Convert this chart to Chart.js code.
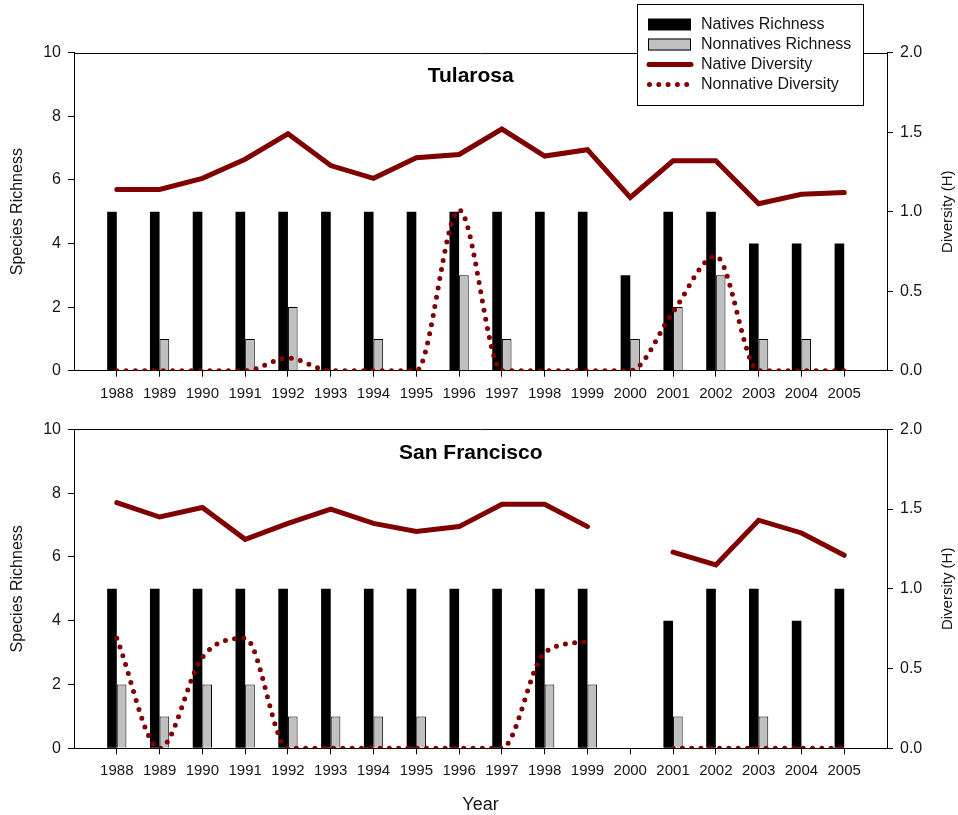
<!DOCTYPE html>
<html>
<head>
<meta charset="utf-8">
<script src="https://cdn.jsdelivr.net/npm/chart.js@4.4.1/dist/chart.umd.min.js"></script>
<style>
  html, body { margin: 0; padding: 0; background: #fff; }
  #wrap { position: relative; width: 958px; height: 815px; }
  .panel { position: absolute; left: 0; width: 958px; }
  #top { top: 0; height: 410px; }
  #bottom { top: 410px; height: 405px; }
</style>
</head>
<body>
<div id="wrap">
  <div class="panel" id="top"><canvas id="tularosaChart"></canvas></div>
  <div class="panel" id="bottom"><canvas id="sfChart"></canvas></div>
</div>
<script>
const years = [1988, 1989, 1990, 1991, 1992, 1993, 1994, 1995, 1996,
               1997, 1998, 1999, 2000, 2001, 2002, 2003, 2004, 2005];

// Tularosa
const tulNatives    = [5, 5, 5, 5, 5, 5, 5, 5, 5, 5, 5, 5, 3, 5, 5, 4, 4, 4];
const tulNonnatives = [0, 1, 0, 1, 2, 0, 1, 0, 3, 1, 0, 0, 1, 2, 3, 1, 1, 0];
const tulNativeH    = [1.14, 1.14, 1.21, 1.33, 1.49, 1.29, 1.21, 1.34, 1.36,
                       1.52, 1.35, 1.39, 1.09, 1.32, 1.32, 1.05, 1.11, 1.12];
const tulNonnativeH = [0, 0, 0, 0, 0.08, 0, 0, 0, 1.01,
                       0, 0, 0, 0, 0.37, 0.72, 0, 0, 0];

// San Francisco (no sampling in 2000)
const sfNatives    = [5, 5, 5, 5, 5, 5, 5, 5, 5, 5, 5, 5, null, 4, 5, 5, 4, 5];
const sfNonnatives = [2, 1, 2, 2, 1, 1, 1, 1, 0, 0, 2, 2, null, 1, 0, 1, 0, 0];
const sfNativeH    = [1.54, 1.45, 1.51, 1.31, 1.41, 1.50, 1.41, 1.36, 1.39,
                      1.53, 1.53, 1.39, null, 1.23, 1.15, 1.43, 1.35, 1.21];
const sfNonnativeH = [0.69, 0, 0.57, 0.69, 0, 0, 0, 0, 0,
                      0, 0.60, 0.67, null, 0, 0, 0, 0, 0];

const richTicks = [0, 2, 4, 6, 8, 10];
const divTicks  = [0, 0.5, 1.0, 1.5, 2.0];

const FONT = '"Liberation Sans", Arial, sans-serif';
const DARK_RED = '#800000';
const TEXT = '#161616';

function toPoints(values) {
  return years.map((yr, i) => ({ x: yr, y: values[i] }));
}

function drawDots(ctx, x0, x1, y) {
  ctx.save();
  ctx.strokeStyle = DARK_RED;
  ctx.lineWidth = 5;
  ctx.lineCap = 'round';
  ctx.setLineDash([0, 9.3]);
  ctx.beginPath();
  ctx.moveTo(x0, y);
  ctx.lineTo(x1, y);
  ctx.stroke();
  ctx.restore();
}

// top border, panel title, axis titles
const framePlugin = {
  id: 'frame',
  afterDraw(chart, args, opts) {
    const { ctx, chartArea: a } = chart;
    ctx.save();
    ctx.strokeStyle = '#000';
    ctx.lineWidth = 1;
    const ty = Math.round(a.top) + 0.5;
    ctx.beginPath();
    ctx.moveTo(a.left, ty);
    ctx.lineTo(a.right, ty);
    ctx.stroke();

    ctx.fillStyle = '#000';
    ctx.font = 'bold 21px ' + FONT;
    ctx.textAlign = 'center';
    ctx.textBaseline = 'alphabetic';
    ctx.fillText(opts.title, a.left + (a.right - a.left) * 0.488, a.top + 29.5);

    const midY = (a.top + a.bottom) / 2;
    ctx.fillStyle = TEXT;
    ctx.textBaseline = 'middle';
    ctx.font = '16px ' + FONT;
    ctx.save();
    ctx.translate(18, midY);
    ctx.rotate(-Math.PI / 2);
    ctx.fillText('Species Richness', 0, 0);
    ctx.restore();

    ctx.font = '15px ' + FONT;
    ctx.save();
    ctx.translate(948, midY);
    ctx.rotate(-Math.PI / 2);
    ctx.fillText('Diversity (H)', 0, 0);
    ctx.restore();

    if (opts.xTitle) {
      ctx.font = '18px ' + FONT;
      ctx.fillText(opts.xTitle, (a.left + a.right) / 2, a.bottom + 57);
    }

    if (opts.legend) {
      const bx = 637.5, by = 4.5, bw = 226, bh = 101;
      ctx.fillStyle = '#fff';
      ctx.fillRect(bx, by, bw, bh);
      ctx.strokeStyle = '#000';
      ctx.strokeRect(bx, by, bw, bh);

      const sx = 648, sw = 43, tx = 701;
      const rows = [24.5, 44.5, 64.5, 84.5];
      ctx.fillStyle = '#000';
      ctx.fillRect(sx, rows[0] - 6, sw, 12);
      ctx.fillStyle = '#c0c0c0';
      ctx.fillRect(sx, rows[1] - 6, sw, 12);
      ctx.strokeStyle = '#000';
      ctx.strokeRect(sx + 0.5, rows[1] - 5.5, sw - 1, 11);

      ctx.strokeStyle = DARK_RED;
      ctx.lineWidth = 5;
      ctx.lineCap = 'round';
      ctx.beginPath();
      ctx.moveTo(sx + 1, rows[2]);
      ctx.lineTo(sx + sw, rows[2]);
      ctx.stroke();
      drawDots(ctx, sx + 1.5, sx + sw, rows[3]);

      ctx.fillStyle = TEXT;
      ctx.font = '16px ' + FONT;
      ctx.textAlign = 'left';
      ctx.textBaseline = 'middle';
      ['Natives Richness', 'Nonnatives Richness', 'Native Diversity', 'Nonnative Diversity']
        .forEach((t, i) => ctx.fillText(t, tx, rows[i]));
    }
    ctx.restore();
  }
};

function buildChart(canvasId, d, frameOpts, topPad, xHeight) {
  const xFont = { family: FONT, size: 15 };
  const yFont = { family: FONT, size: 16 };
  return new Chart(document.getElementById(canvasId), {
    data: {
      datasets: [
        {
          type: 'line',
          label: 'Native Diversity',
          data: toPoints(d.nativeH),
          yAxisID: 'y1',
          borderColor: DARK_RED,
          borderWidth: 5,
          borderCapStyle: 'round',
          pointRadius: 0,
          tension: 0,
          spanGaps: false,
          order: 0
        },
        {
          type: 'line',
          label: 'Nonnative Diversity',
          data: toPoints(d.nonnativeH),
          yAxisID: 'y1',
          borderColor: DARK_RED,
          borderWidth: 5,
          borderCapStyle: 'round',
          borderDash: [0, 9.3],
          cubicInterpolationMode: 'monotone',
          pointRadius: 0,
          spanGaps: false,
          order: 1
        },
        {
          type: 'bar',
          label: 'Natives Richness',
          data: toPoints(d.natives),
          yAxisID: 'y',
          backgroundColor: '#000',
          borderWidth: 0,
          categoryPercentage: 0.45,
          barPercentage: 1.0,
          order: 2
        },
        {
          type: 'bar',
          label: 'Nonnatives Richness',
          data: toPoints(d.nonnatives),
          yAxisID: 'y',
          backgroundColor: '#c0c0c0',
          borderColor: '#000',
          borderWidth: 1,
          categoryPercentage: 0.45,
          barPercentage: 1.0,
          order: 2
        }
      ]
    },
    options: {
      responsive: true,
      maintainAspectRatio: false,
      animation: false,
      layout: { padding: { top: topPad, left: 0, right: 0, bottom: 0 } },
      plugins: {
        legend: { display: false },
        tooltip: { enabled: false },
        frame: frameOpts
      },
      scales: {
        x: {
          type: 'linear',
          min: 1987,
          max: 2006,
          offset: false,
          afterBuildTicks: s => { s.ticks = years.map(v => ({ value: v })); },
          afterFit: s => { s.height = xHeight; },
          ticks: {
            autoSkip: false, maxRotation: 0, padding: 8, color: TEXT, font: xFont,
            callback: v => String(v)
          },
          grid: { offset: false, drawOnChartArea: false, tickLength: 6, color: '#000' },
          border: { color: '#000', width: 1 }
        },
        y: {
          position: 'left',
          min: 0,
          max: 10,
          afterBuildTicks: s => { s.ticks = richTicks.map(v => ({ value: v })); },
          afterFit: s => { s.width = 74; },
          ticks: { padding: 7, color: TEXT, font: yFont },
          grid: { drawOnChartArea: false, tickLength: 6, color: '#000' },
          border: { color: '#000', width: 1 }
        },
        y1: {
          position: 'right',
          min: 0,
          max: 2,
          afterBuildTicks: s => { s.ticks = divTicks.map(v => ({ value: v })); },
          afterFit: s => { s.width = 71; },
          ticks: { padding: 7, color: TEXT, font: yFont, callback: v => v.toFixed(1) },
          grid: { drawOnChartArea: false, tickLength: 6, color: '#000' },
          border: { color: '#000', width: 1 }
        }
      }
    },
    plugins: [framePlugin]
  });
}

buildChart('tularosaChart',
  { natives: tulNatives, nonnatives: tulNonnatives, nativeH: tulNativeH, nonnativeH: tulNonnativeH },
  { title: 'Tularosa', legend: true },
  52.7, 39.3);

buildChart('sfChart',
  { natives: sfNatives, nonnatives: sfNonnatives, nativeH: sfNativeH, nonnativeH: sfNonnativeH },
  { title: 'San Francisco', xTitle: 'Year' },
  19.3, 66.7);
</script>
</body>
</html>
